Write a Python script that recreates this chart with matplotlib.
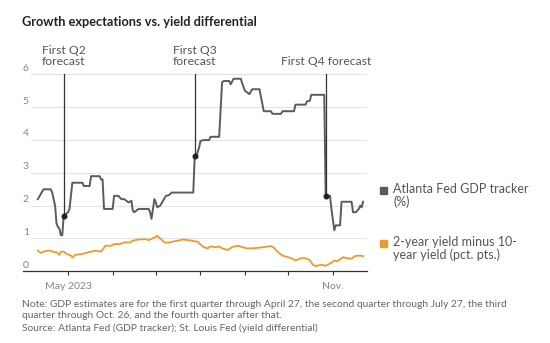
import numpy as np
import matplotlib
matplotlib.use("Agg")
import matplotlib.pyplot as plt
from matplotlib.patches import Rectangle

plt.rcParams['font.family'] = ['Lato', 'DejaVu Sans']

# Atlanta Fed GDPNow tracker (%)
gdp_dates = ['2023-04-10', '2023-04-14', '2023-04-19', '2023-04-20', '2023-04-22',
             '2023-04-23', '2023-04-24', '2023-04-25', '2023-04-26', '2023-04-27',
             '2023-04-28', '2023-05-01', '2023-05-02', '2023-05-04', '2023-05-11',
             '2023-05-12', '2023-05-16', '2023-05-17', '2023-05-23', '2023-05-24',
             '2023-05-25', '2023-05-26', '2023-06-01', '2023-06-02', '2023-06-05',
             '2023-06-07', '2023-06-09', '2023-06-12', '2023-06-14', '2023-06-15',
             '2023-06-16', '2023-06-19', '2023-06-26', '2023-06-27', '2023-06-28',
             '2023-06-30', '2023-07-01', '2023-07-02', '2023-07-04', '2023-07-06',
             '2023-07-08', '2023-07-10', '2023-07-12', '2023-07-27', '2023-07-28',
             '2023-07-29', '2023-07-31', '2023-08-01', '2023-08-03', '2023-08-07',
             '2023-08-08', '2023-08-14', '2023-08-16', '2023-08-17', '2023-08-21',
             '2023-08-22', '2023-08-24', '2023-08-29', '2023-08-31', '2023-09-01',
             '2023-09-04', '2023-09-06', '2023-09-11', '2023-09-14', '2023-09-19',
             '2023-09-20', '2023-09-26', '2023-09-27', '2023-10-05', '2023-10-06',
             '2023-10-13', '2023-10-14', '2023-10-16', '2023-10-17', '2023-10-26',
             '2023-10-27', '2023-10-30', '2023-10-31', '2023-11-02', '2023-11-03',
             '2023-11-06', '2023-11-07', '2023-11-14', '2023-11-15', '2023-11-17',
             '2023-11-19', '2023-11-20', '2023-11-21', '2023-11-22']
gdp_values = [2.2, 2.5, 2.5, 2.4, 2.0,
              1.45, 1.35, 1.3, 1.1, 1.1,
              1.7, 1.8, 1.9, 2.7, 2.7,
              2.6, 2.6, 2.9, 2.9, 2.8,
              2.8, 1.9, 1.9, 2.3, 2.3,
              2.2, 2.2, 2.1, 2.15, 1.85,
              1.8, 1.9, 1.9, 1.8, 1.6,
              2.2, 2.1, 1.95, 2.0, 2.15,
              2.3, 2.32, 2.4, 2.4, 3.5,
              3.5, 3.76, 3.97, 4.0, 4.0,
              4.1, 4.1, 5.75, 5.8, 5.8,
              5.7, 5.87, 5.87, 5.6, 5.5,
              5.4, 5.55, 5.55, 4.88, 4.88,
              4.8, 4.8, 4.88, 4.88, 5.08,
              5.08, 5.18, 5.2, 5.38, 5.38,
              2.3, 2.3, 1.9, 1.25, 1.4,
              1.4, 2.12, 2.12, 1.8, 1.8,
              1.9, 2.0, 1.95, 2.12]

# 2-year minus 10-year yield (pct. pts.)
yld_dates = ['2023-04-10', '2023-04-12', '2023-04-14', '2023-04-17', '2023-04-19',
             '2023-04-21', '2023-04-23', '2023-04-25', '2023-04-26', '2023-04-28',
             '2023-04-30', '2023-05-03', '2023-05-04', '2023-05-06', '2023-05-11',
             '2023-05-15', '2023-05-20', '2023-05-24', '2023-05-27', '2023-05-31',
             '2023-06-02', '2023-06-06', '2023-06-09', '2023-06-13', '2023-06-15',
             '2023-06-19', '2023-06-24', '2023-06-26', '2023-06-30', '2023-07-02',
             '2023-07-04', '2023-07-07', '2023-07-10', '2023-07-12', '2023-07-16',
             '2023-07-20', '2023-07-25', '2023-07-30', '2023-08-01', '2023-08-03',
             '2023-08-06', '2023-08-08', '2023-08-12', '2023-08-14', '2023-08-16',
             '2023-08-20', '2023-08-23', '2023-08-27', '2023-08-30', '2023-09-02',
             '2023-09-06', '2023-09-11', '2023-09-16', '2023-09-19', '2023-09-21',
             '2023-09-23', '2023-09-24', '2023-09-27', '2023-10-01', '2023-10-04',
             '2023-10-06', '2023-10-10', '2023-10-13', '2023-10-16', '2023-10-18',
             '2023-10-20', '2023-10-24', '2023-10-27', '2023-10-31', '2023-11-02',
             '2023-11-04', '2023-11-08', '2023-11-11', '2023-11-14', '2023-11-16',
             '2023-11-20', '2023-11-22']
yld_values = [0.63, 0.56, 0.6, 0.63, 0.63,
              0.58, 0.58, 0.5, 0.6, 0.6,
              0.53, 0.48, 0.42, 0.5, 0.53,
              0.58, 0.63, 0.6, 0.78, 0.78,
              0.83, 0.83, 0.88, 0.88, 0.93,
              0.97, 0.98, 0.95, 1.03, 1.08,
              1.0, 0.88, 0.87, 0.9, 0.93,
              0.97, 0.94, 0.9, 0.82, 0.74,
              0.7, 0.76, 0.73, 0.76, 0.7,
              0.65, 0.74, 0.78, 0.74, 0.7,
              0.7, 0.72, 0.75, 0.77, 0.72,
              0.62, 0.58, 0.48, 0.43, 0.38,
              0.33, 0.4, 0.4, 0.34, 0.2,
              0.16, 0.2, 0.17, 0.26, 0.33,
              0.3, 0.43, 0.4, 0.38, 0.46,
              0.48, 0.46]

# first forecast of each quarter: date, value at the dot, label
fc_dates = ['2023-04-28', '2023-07-28', '2023-10-27']
fc_values = [1.7, 3.5, 2.3]
fc_labels = ['First Q2\nforecast', 'First Q3\nforecast', 'First Q4 forecast']

W, H = 550, 343
GRAY = '#5b5b5b'
ORANGE = '#eb9c2a'
TXT = '#858585'

def fx(x):
    return x / W

def fy(y):
    return 1 - y / H

fig = plt.figure(figsize=(5.5, 3.43), dpi=100)
ax = fig.add_axes([fx(22.7), fy(271.3), fx(366.7) - fx(22.7), fy(72.5) - fy(271.3)])

gd = np.array(gdp_dates, dtype='datetime64[D]')
yd = np.array(yld_dates, dtype='datetime64[D]')
fd = np.array(fc_dates, dtype='datetime64[D]')

# gridlines start a bit right of the axis, leaving room for the labels
for v in range(1, 7):
    ax.axhline(v, xmin=0.025, xmax=1, color='#e3e3e3', lw=0.8, zorder=0)

ax.plot(yd, yld_values, color=ORANGE, lw=1.3, zorder=2)
ax.plot(gd, gdp_values, color=GRAY, lw=1.4, zorder=3)

for d, v, lab in zip(fd, fc_values, fc_labels):
    ax.plot([d, d], [v, 6.02], color='#333333', lw=0.9, zorder=4, clip_on=False)
    ax.plot(d, v, 'o', color='#222222', ms=3.3, zorder=5)
    ax.text(d, 6.22, lab, ha='center', va='bottom', fontsize=8.7,
            color='#555555', linespacing=1.05)

x0 = np.datetime64('2023-03-30T12:00')
x1 = np.datetime64('2023-11-24T12:00')
ax.set_xlim(x0, x1)
ax.set_ylim(0, 6.06)

for s in ['top', 'right', 'left']:
    ax.spines[s].set_visible(False)
ax.spines['bottom'].set_color('#333333')
ax.spines['bottom'].set_linewidth(0.9)

ax.set_yticks([])
for v in range(0, 7):
    ax.text(0.0, v + 0.05, str(v), transform=ax.get_yaxis_transform(),
            ha='left', va='bottom', fontsize=7.5, color=TXT)

months = np.arange(np.datetime64('2023-05'), np.datetime64('2023-12'),
                   dtype='datetime64[M]').astype('datetime64[D]')
ax.set_xticks(months)
ax.set_xticklabels(['May 2023', '', '', '', '', '', 'Nov.'])
ax.tick_params(axis='x', length=3, width=0.8, color='#333333', direction='out',
               pad=5, labelsize=7.5, labelcolor=TXT)

fig.text(fx(22), fy(22), 'Growth expectations vs. yield differential',
         fontsize=9.2, fontweight='bold', color='#222222', va='center', ha='left')

# legend
leg = [('Atlanta Fed GDP tracker\n(%)', GRAY, 190),
       ('2-year yield minus 10-\nyear yield (pct. pts.)', ORANGE, 243)]
for lab, c, yc in leg:
    fig.patches.append(Rectangle((fx(380), fy(yc + 3.5)), fx(7), 7 / H,
                                 transform=fig.transFigure, color=c))
    fig.text(fx(393), fy(yc - 7), lab, fontsize=9, color='#555555',
             ha='left', va='top', linespacing=1.05)

note = ('Note: GDP estimates are for the first quarter through April 27, the second '
        'quarter through July 27, the third\nquarter through Oct. 26, and the fourth '
        'quarter after that.\nSource: Atlanta Fed (GDP tracker); St. Louis Fed '
        '(yield differential)')
fig.text(fx(22), fy(300), note, fontsize=7.4, color='#666666', ha='left', va='top',
         linespacing=1.35)

fig.savefig('out.png', dpi=100)
